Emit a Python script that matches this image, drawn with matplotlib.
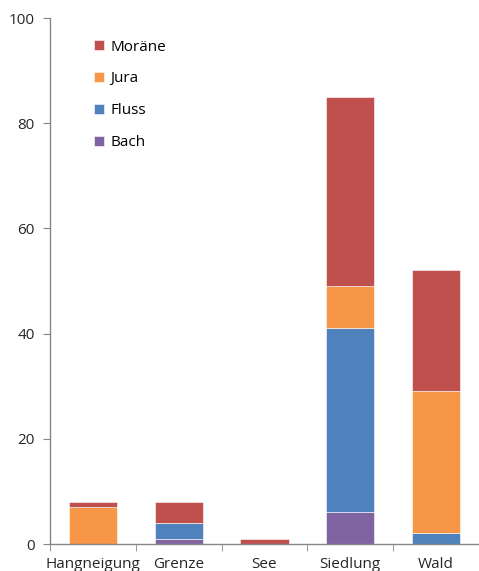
import numpy as np
import matplotlib.pyplot as plt
from matplotlib.ticker import FixedLocator

plt.rcParams['font.family'] = ['Open Sans', 'DejaVu Sans']

categories = ['Hangneigung', 'Grenze', 'See', 'Siedlung', 'Wald']
bach = [0, 1, 0, 6, 0]
fluss = [0, 3, 0, 35, 2]
jura = [7, 0, 0, 8, 27]
moraene = [1, 4, 1, 36, 23]

series = [('Bach', bach, '#8064A2'),
          ('Fluss', fluss, '#4F81BD'),
          ('Jura', jura, '#F79646'),
          ('Moräne', moraene, '#C0504D')]

fig = plt.figure(figsize=(4.79, 5.71), dpi=100)
ax = fig.add_axes([50 / 479, 27 / 571, 429 / 479, 526 / 571])

x = np.arange(len(categories))
bottom = np.zeros(len(categories))
handles = []
for name, vals, col in series:
    b = ax.bar(x, vals, width=0.56, bottom=bottom, color=col, label=name,
               edgecolor='white', linewidth=0.4)
    handles.append(b)
    bottom += np.array(vals)

ax.set_xlim(-0.5, 4.5)
ax.set_ylim(0, 100)
ax.set_yticks(range(0, 101, 20))

ax.set_xticks(x)
ax.set_xticklabels(categories)
ax.xaxis.set_minor_locator(FixedLocator(np.arange(-0.5, 4.6, 1)))
ax.tick_params(axis='x', which='major', length=0, pad=9)
ax.tick_params(axis='x', which='minor', length=5, color='#868686', direction='out')
ax.tick_params(axis='y', length=5, color='#868686', direction='out', pad=6)
ax.tick_params(labelsize=11, labelcolor='#262626')

for s in ['top', 'right']:
    ax.spines[s].set_visible(False)
for s in ['left', 'bottom']:
    ax.spines[s].set_color('#868686')
    ax.spines[s].set_linewidth(1.0)

ax.legend(handles[::-1], [s[0] for s in series][::-1], loc='upper left',
          bbox_to_anchor=(0.07, 0.985), frameon=False, fontsize=11,
          handlelength=0.65, handleheight=0.65, handletextpad=0.45,
          labelspacing=1.1)

fig.savefig('out.png', dpi=100)
